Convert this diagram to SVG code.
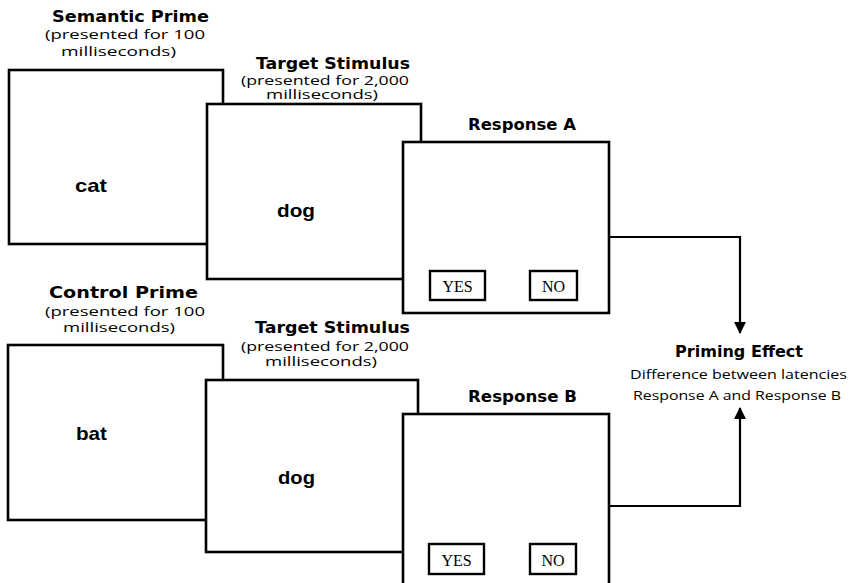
<svg xmlns="http://www.w3.org/2000/svg" width="860" height="583" viewBox="0 0 860 583">
  <style>
    .frame { fill: #fff; stroke: #000; stroke-width: 2.6; }
    .key { fill: #fff; stroke: #000; stroke-width: 2.4; }
    .head { font-family: "DejaVu Sans", "Liberation Sans", sans-serif; font-weight: bold; font-size: 15px; fill: #000; }
    .note { font-family: "Open Sans", "Liberation Sans", sans-serif; font-size: 13px; fill: #000; }
    .word { font-family: "Liberation Sans", Arial, sans-serif; font-weight: bold; font-size: 19px; fill: #000; }
    .btn { font-family: "Liberation Serif", "Times New Roman", serif; font-size: 16px; fill: #000; text-anchor: middle; }
    .link { fill: none; stroke: #000; stroke-width: 2.2; }
  </style>
  <defs>
    <marker id="arrow" markerWidth="12" markerHeight="12" viewBox="0 0 12 12" refX="11" refY="6" orient="auto" markerUnits="userSpaceOnUse">
      <path d="M0,0 L12,6 L0,12 Z" fill="#000"/>
    </marker>
  </defs>
  <rect width="860" height="583" fill="#fff"/>

  <!-- Upper sequence: semantic prime -->
  <g id="semantic-prime">
    <text class="head" x="52" y="22" textLength="157" lengthAdjust="spacingAndGlyphs">Semantic Prime</text>
    <text class="note" x="45" y="39" textLength="160" lengthAdjust="spacingAndGlyphs">(presented for 100</text>
    <text class="note" x="61" y="56" textLength="115" lengthAdjust="spacingAndGlyphs">milliseconds)</text>
    <rect class="frame" x="9" y="70" width="214" height="174"/>
    <text class="word" x="75" y="192" textLength="32" lengthAdjust="spacingAndGlyphs">cat</text>
  </g>

  <g id="target-stimulus-a">
    <text class="head" x="256" y="69" textLength="154" lengthAdjust="spacingAndGlyphs">Target Stimulus</text>
    <text class="note" x="241" y="85" textLength="168" lengthAdjust="spacingAndGlyphs">(presented for 2,000</text>
    <text class="note" x="266" y="99" textLength="112" lengthAdjust="spacingAndGlyphs">milliseconds)</text>
    <rect class="frame" x="207" y="104" width="214" height="175"/>
    <text class="word" x="277" y="217" textLength="38" lengthAdjust="spacingAndGlyphs">dog</text>
  </g>

  <g id="response-a">
    <text class="head" x="468" y="130" textLength="108" lengthAdjust="spacingAndGlyphs">Response A</text>
    <rect class="frame" x="403" y="142" width="206" height="171"/>
    <rect class="key" x="430" y="271" width="55" height="29"/>
    <text class="btn" x="457.5" y="292">YES</text>
    <rect class="key" x="530" y="271" width="47" height="29"/>
    <text class="btn" x="553.5" y="292">NO</text>
  </g>

  <!-- Lower sequence: control prime -->
  <g id="control-prime">
    <text class="head" x="49" y="298" textLength="149" lengthAdjust="spacingAndGlyphs">Control Prime</text>
    <text class="note" x="45" y="316" textLength="160" lengthAdjust="spacingAndGlyphs">(presented for 100</text>
    <text class="note" x="63" y="332" textLength="112" lengthAdjust="spacingAndGlyphs">milliseconds)</text>
    <rect class="frame" x="8" y="345" width="215" height="175"/>
    <text class="word" x="76" y="440" textLength="31" lengthAdjust="spacingAndGlyphs">bat</text>
  </g>

  <g id="target-stimulus-b">
    <text class="head" x="255" y="333" textLength="155" lengthAdjust="spacingAndGlyphs">Target Stimulus</text>
    <text class="note" x="241" y="351" textLength="168" lengthAdjust="spacingAndGlyphs">(presented for 2,000</text>
    <text class="note" x="265" y="366" textLength="112" lengthAdjust="spacingAndGlyphs">milliseconds)</text>
    <rect class="frame" x="206" y="380" width="212" height="172"/>
    <text class="word" x="278" y="484" textLength="37" lengthAdjust="spacingAndGlyphs">dog</text>
  </g>

  <g id="response-b">
    <text class="head" x="468" y="402" textLength="109" lengthAdjust="spacingAndGlyphs">Response B</text>
    <rect class="frame" x="403" y="414" width="206" height="180"/>
    <rect class="key" x="429" y="544" width="55" height="30"/>
    <text class="btn" x="456.5" y="566">YES</text>
    <rect class="key" x="530" y="544" width="46" height="30"/>
    <text class="btn" x="553" y="566">NO</text>
  </g>

  <g id="priming-effect">
    <text class="head" x="675" y="357" textLength="128" lengthAdjust="spacingAndGlyphs">Priming Effect</text>
    <text class="note" x="630" y="379" textLength="217" lengthAdjust="spacingAndGlyphs">Difference between latencies</text>
    <text class="note" x="633" y="400" textLength="208" lengthAdjust="spacingAndGlyphs">Response A and Response B</text>
  </g>

  <!-- Connectors from each response to the priming effect -->
  <g id="connectors">
    <polyline class="link" points="609,237 740,237 740,333" marker-end="url(#arrow)"/>
    <polyline class="link" points="609,506 740,506 740,408" marker-end="url(#arrow)"/>
  </g>
</svg>
